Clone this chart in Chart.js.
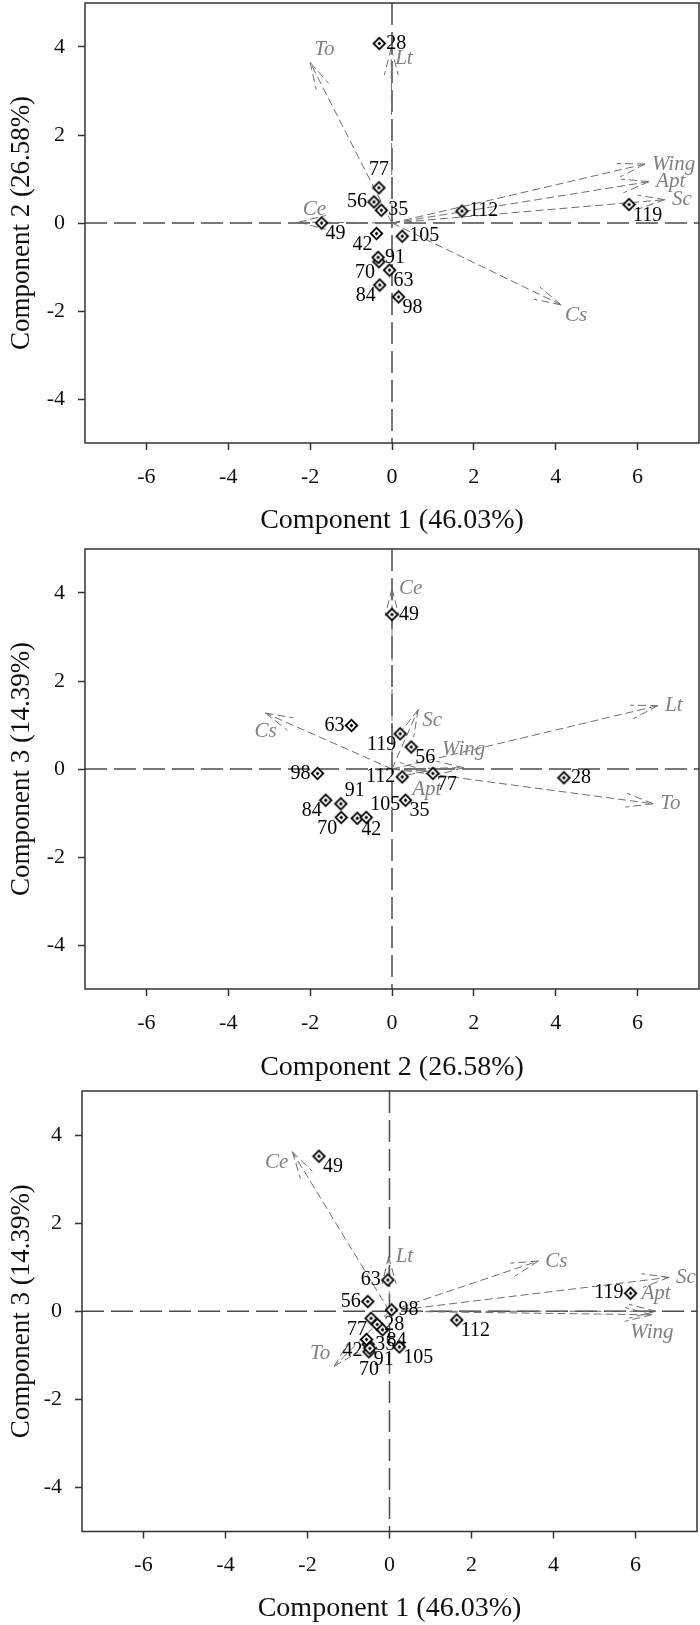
<!DOCTYPE html>
<html>
<head>
<meta charset="utf-8">
<script src="https://cdn.jsdelivr.net/npm/chart.js@4.4.1/dist/chart.umd.min.js"></script>
<style>
  body { margin: 0; background: #fff; }
  .panel { position: absolute; left: 0; }
</style>
</head>
<body>
<div style="position:relative;width:700px;height:1625px">
  <canvas id="pc12" class="panel" style="top:0" width="700" height="545"></canvas>
  <canvas id="pc23" class="panel" style="top:545px" width="700" height="545"></canvas>
  <canvas id="pc13" class="panel" style="top:1090px" width="700" height="535"></canvas>
</div>
<script>
// sample scores, same order in every array
const sampleIds = ['28', '35', '42', '49', '56', '63', '70', '77', '84', '91', '98', '105', '112', '119'];

// panel 1: component 1 vs component 2
const comp1a = [-0.31, -0.26, -0.38, -1.72, -0.44, -0.06, -0.32, -0.32, -0.30, -0.34, 0.16, 0.25, 1.71, 5.79];
const comp2a = [4.08, 0.29, -0.24, 0.00, 0.48, -1.07, -0.88, 0.80, -1.41, -0.78, -1.68, -0.30, 0.27, 0.42];
// panel 2: component 2 vs component 3
const comp2b = [4.20, 0.33, -0.85, 0.00, 0.47, -0.99, -1.24, 1.00, -1.62, -1.25, -1.82, -0.63, 0.25, 0.20];
const comp3b = [-0.20, -0.71, -1.12, 3.51, 0.50, 0.99, -1.10, -0.10, -0.71, -0.79, -0.10, -1.10, -0.18, 0.80];
// panel 3: component 1 vs component 3
const comp1c = [-0.30, -0.52, -0.56, -1.72, -0.53, -0.04, -0.50, -0.45, -0.17, -0.48, 0.05, 0.24, 1.64, 5.88];
const comp3c = [-0.30, -0.75, -0.64, 3.52, 0.22, 0.71, -0.92, -0.16, -0.42, -0.84, 0.03, -0.81, -0.20, 0.41];

// trait vectors (arrow tips)
const traitNames = ['Wing', 'Apt', 'Sc', 'Ce', 'Cs', 'To', 'Lt'];
const load1a = [6.18, 6.28, 6.67, -2.28, 4.13, -2.00, -0.02];
const load2a = [1.34, 0.94, 0.53, 0.02, -1.86, 3.65, 3.98];
const load2b = [1.75, 0.85, 0.64, 0.00, -3.09, 6.38, 6.50];
const load3b = [0.03, -0.05, 1.35, 4.10, 1.27, -0.79, 1.44];
const load1c = [6.40, 6.50, 6.82, -2.37, 3.63, -1.35, -0.02];
const load3c = [-0.08, 0.00, 0.77, 3.62, 1.14, -1.25, 1.24];

const xTicks = [-6, -4, -2, 0, 2, 4, 6];
const yTicks = [-4, -2, 0, 2, 4];

const title1 = 'Component 1 (46.03%)';
const title2 = 'Component 2 (26.58%)';
const title3 = 'Component 3 (14.39%)';

// where each text sits next to its mark
const samplePlace1 = ['r', 'r', 'lb', 'rb', 'l', 'rb', 'lb', 'a', 'lb', 'r', 'rb', 'r', 'r', 'rb'];
const samplePlace2 = ['r', 'rb', 'rb', 'r', 'rb', 'l', 'lb', 'rb', 'lb', 'ra', 'l', 'ra', 'l', 'lb'];
const samplePlace3 = ['r', 'r', 'lb', 'rb', 'l', 'l', 'b', 'lb', 'rb', 'rb', 'r', 'rb', 'rb', 'l'];
const traitPlace1 = ['r', 'r', 'r', 'ra', 'rb', 'ra', 'rb'];
const traitPlace2 = ['a', 'b', 'rb', 'r', 'b', 'r', 'r'];
const traitPlace3 = ['b', 'a', 'r', 'lb', 'r', 'la', 'r'];

const placeOffsets = {
    r: [7, 0, 'left'], l: [-7, 0, 'right'],
    ra: [4, -13, 'left'], rb: [4, 11, 'left'],
    la: [-4, -13, 'right'], lb: [-4, 11, 'right'],
    a: [0, -18, 'center'], b: [0, 18, 'center']
};

const serif = '"Liberation Serif", "Times New Roman", serif';

const diamondMarker = () => {
    const c = document.createElement('canvas');
    c.width = 15; c.height = 15;
    const g = c.getContext('2d');
    const d = (r, col) => {
        g.beginPath();
        g.moveTo(7.5, 7.5 - r); g.lineTo(7.5 + r, 7.5); g.lineTo(7.5, 7.5 + r); g.lineTo(7.5 - r, 7.5);
        g.closePath();
        g.fillStyle = col;
        g.fill();
    };
    d(7, '#000');
    d(4.4, '#fff');
    d(1.9, '#000');
    return c;
};
const marker = diamondMarker();

const drawText = (ctx, text, px, py, code) => {
    const [dx, dy, align] = placeOffsets[code];
    ctx.textAlign = align;
    ctx.textBaseline = 'middle';
    ctx.fillText(text, px + dx, py + dy);
};

const biplotLayer = {
    id: 'biplotLayer',
    beforeDatasetsDraw(chart, args, opts) {
        const { ctx, chartArea: a, scales: { x, y } } = chart;
        const x0 = x.getPixelForValue(0);
        const y0 = y.getPixelForValue(0);
        ctx.save();
        // dashed zero lines
        ctx.strokeStyle = '#4a4a4a';
        ctx.lineWidth = 1.5;
        ctx.setLineDash([22, 7]);
        ctx.beginPath();
        ctx.moveTo(a.left, y0); ctx.lineTo(a.right, y0);
        ctx.moveTo(x0, a.top); ctx.lineTo(x0, a.bottom);
        ctx.stroke();

        // trait arrows
        ctx.strokeStyle = '#6e6e6e';
        ctx.lineWidth = 1;
        ctx.setLineDash([8, 4]);
        opts.loadX.forEach((lx, i) => {
            const tx = x.getPixelForValue(lx);
            const ty = y.getPixelForValue(opts.loadY[i]);
            const ang = Math.atan2(ty - y0, tx - x0);
            const len = 28, spread = 0.25;
            ctx.beginPath();
            ctx.moveTo(x0, y0); ctx.lineTo(tx, ty);
            ctx.moveTo(tx, ty);
            ctx.lineTo(tx - len * Math.cos(ang - spread), ty - len * Math.sin(ang - spread));
            ctx.moveTo(tx, ty);
            ctx.lineTo(tx - len * Math.cos(ang + spread), ty - len * Math.sin(ang + spread));
            ctx.stroke();
        });
        ctx.restore();
    },
    afterDatasetsDraw(chart, args, opts) {
        const { ctx, scales: { x, y } } = chart;
        ctx.save();
        ctx.font = 'italic 21px ' + serif;
        ctx.fillStyle = '#808080';
        traitNames.forEach((name, i) => {
            drawText(ctx, name, x.getPixelForValue(opts.loadX[i]), y.getPixelForValue(opts.loadY[i]), opts.traitPlace[i]);
        });
        ctx.font = '20px ' + serif;
        ctx.fillStyle = '#000';
        sampleIds.forEach((id, i) => {
            drawText(ctx, id, x.getPixelForValue(opts.scoreX[i]), y.getPixelForValue(opts.scoreY[i]), opts.samplePlace[i]);
        });
        ctx.restore();
    },
    afterDraw(chart) {
        const { ctx, chartArea: a } = chart;
        ctx.save();
        ctx.strokeStyle = '#333';
        ctx.lineWidth = 1.5;
        ctx.strokeRect(a.left, a.top, a.right - a.left, a.bottom - a.top);
        ctx.restore();
    }
};

const makePanel = (id, p) => {
    const ctx = document.getElementById(id).getContext('2d');
    return new Chart(ctx, {
        type: 'scatter',
        data: {
            datasets: [{
                data: p.scoreX.map((v, i) => ({ x: v, y: p.scoreY[i] })),
                pointStyle: marker,
                pointRadius: 7,
                pointHoverRadius: 7
            }]
        },
        options: {
            responsive: false,
            animation: false,
            layout: { autoPadding: false, padding: { top: p.padTop, right: p.padRight, left: 0, bottom: 0 } },
            plugins: {
                legend: { display: false },
                tooltip: { enabled: false },
                biplotLayer: p
            },
            scales: {
                x: {
                    type: 'linear',
                    min: -7.5, max: 7.5,
                    afterBuildTicks: s => { s.ticks = xTicks.map(v => ({ value: v })); },
                    afterFit: s => { s.height = p.xHeight; s.paddingLeft = 0; s.paddingRight = 0; },
                    border: { display: false },
                    grid: { drawOnChartArea: false, drawTicks: true, tickLength: 7, color: '#333', tickColor: '#333', tickWidth: 1.5 },
                    ticks: { autoSkip: false, maxRotation: 0, padding: 14, color: '#111', font: { family: serif, size: 22 } },
                    title: { display: true, text: p.xTitle, color: '#111', font: { family: serif, size: 28 }, padding: { top: 0, bottom: p.xTitlePad } }
                },
                y: {
                    type: 'linear',
                    min: -5, max: 5,
                    afterBuildTicks: s => { s.ticks = yTicks.map(v => ({ value: v })); },
                    afterFit: s => { s.width = p.yWidth; s.paddingTop = 0; s.paddingBottom = 0; },
                    border: { display: false },
                    grid: { drawOnChartArea: false, drawTicks: true, tickLength: 7, color: '#333', tickColor: '#333', tickWidth: 1.5 },
                    ticks: { autoSkip: false, padding: 13, color: '#111', font: { family: serif, size: 22 } },
                    title: { display: true, text: p.yTitle, color: '#111', font: { family: serif, size: 27 }, padding: { top: 6, bottom: 0 } }
                }
            }
        },
        plugins: [biplotLayer]
    });
};

makePanel('pc12', {
    scoreX: comp1a, scoreY: comp2a, loadX: load1a, loadY: load2a,
    samplePlace: samplePlace1, traitPlace: traitPlace1,
    xTitle: title1, yTitle: title2,
    padTop: 3, padRight: 1, yWidth: 85, xHeight: 102, xTitlePad: 8
});
makePanel('pc23', {
    scoreX: comp2b, scoreY: comp3b, loadX: load2b, loadY: load3b,
    samplePlace: samplePlace2, traitPlace: traitPlace2,
    xTitle: title2, yTitle: title3,
    padTop: 4, padRight: 1, yWidth: 85, xHeight: 101, xTitlePad: 6
});
makePanel('pc13', {
    scoreX: comp1c, scoreY: comp3c, loadX: load1c, loadY: load3c,
    samplePlace: samplePlace3, traitPlace: traitPlace3,
    xTitle: title1, yTitle: title3,
    padTop: 1, padRight: 3, yWidth: 82, xHeight: 93.5, xTitlePad: 0
});
</script>
</body>
</html>
